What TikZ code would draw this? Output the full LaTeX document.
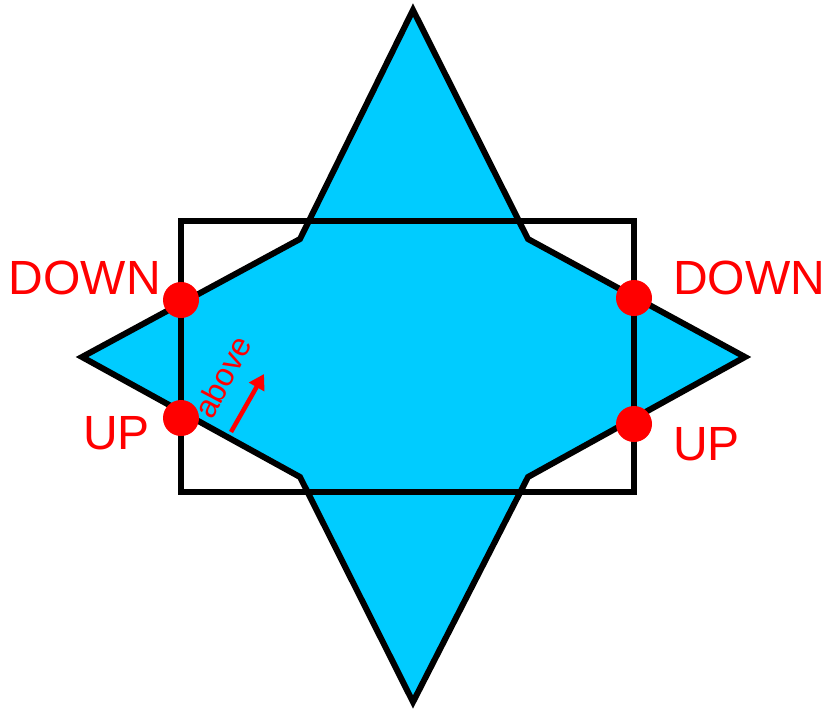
\documentclass[tikz,border=0pt]{standalone}
\usepackage{fontspec}
\setmainfont{Liberation Sans}
\usetikzlibrary{arrows.meta}
\definecolor{starfill}{RGB}{0,204,255}
\definecolor{lblred}{RGB}{255,0,0}
\begin{document}
\begin{tikzpicture}[x=1pt,y=-1pt,
  outline/.style={draw=black,line width=6pt,line join=miter},
  hitdot/.style={circle,fill=lblred,minimum size=36pt,inner sep=0pt},
  lbl/.style={text=lblred,font=\fontsize{48}{48}\selectfont,inner sep=0pt},
  smalllbl/.style={text=lblred,font=\fontsize{32}{32}\selectfont,inner sep=0pt}]
\useasboundingbox (0,0) rectangle (825,710);
% star
\draw[outline,fill=starfill] (413,10) -- (528,239) -- (745,357) -- (528,477)
  -- (413,702) -- (300,477) -- (82,357) -- (300,239) -- cycle;
% rectangle
\draw[outline] (181,221) rectangle (634,492);
% dots
\node[hitdot] (dl) at (181,300) {};
\node[hitdot] (ul) at (181,418) {};
\node[hitdot] (dr) at (634,298) {};
\node[hitdot] (ur) at (634,424) {};
% labels
\node[lbl,anchor=base east] (tdl) at (161,294) {DOWN};
\node[lbl,anchor=base east] (tul) at (150,449) {UP};
\node[lbl,anchor=base west] (tdr) at (673,294) {DOWN};
\node[lbl,anchor=base west] (tur) at (673,460) {UP};
% above arrow
\node[smalllbl,anchor=base west,rotate=62] (abv) at (212,421) {above};
\coordinate (as) at (231,432);
\coordinate (ae) at (264,374);
\draw[lblred,line width=4.5pt,-{Triangle[length=15pt,width=17pt]}] (as) -- (ae);
\end{tikzpicture}
\end{document}
